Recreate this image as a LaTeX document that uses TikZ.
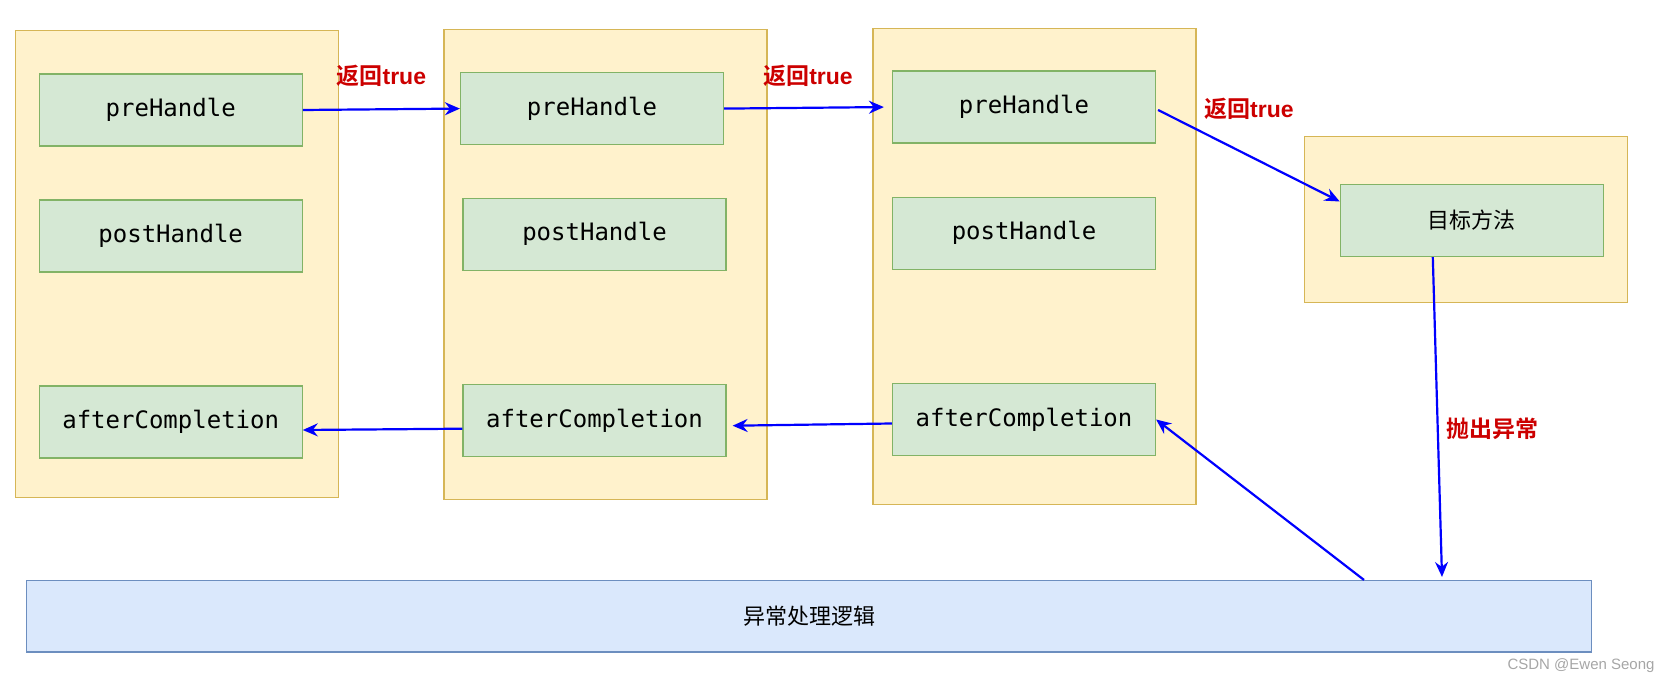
\documentclass[tikz,border=0pt]{standalone}
\usepackage{fontspec}
\setmonofont{DejaVu Sans Mono}
\setsansfont{Liberation Sans}
\newfontfamily\cjk{Noto Sans CJK SC}
\newfontfamily\cjkbold{Noto Sans CJK SC Bold}
\usetikzlibrary{arrows.meta}
\definecolor{lanefill}{HTML}{FFF2CC}
\definecolor{laneline}{HTML}{D6B656}
\definecolor{hookfill}{HTML}{D5E8D4}
\definecolor{hookline}{HTML}{82B366}
\definecolor{errfill}{HTML}{DAE8FC}
\definecolor{errline}{HTML}{6C8EBF}
\definecolor{callblue}{HTML}{0000FF}
\definecolor{notered}{HTML}{CC0000}
\begin{document}
\begin{tikzpicture}[x=1pt,y=-1pt]
    \tikzset{lane/.style={rectangle,draw=laneline,fill=lanefill,line width=1.2pt,minimum width=323pt,inner sep=0pt}}
    \tikzset{hook/.style={rectangle,draw=hookline,fill=hookfill,line width=1.2pt,minimum width=263pt,minimum height=72pt,inner sep=0pt,font=\fontsize{24}{28}\selectfont\ttfamily}}
    \tikzset{call/.style={draw=callblue,line width=2.2pt,-{Stealth[length=15pt,width=13pt,inset=5pt]}}}
    \tikzset{note/.style={text=notered,inner sep=0pt,font=\fontsize{23}{27}\selectfont}}
    \useasboundingbox (0,0) rectangle (1670,684);
    % interceptor chain
    \node[lane,minimum height=467pt] (L1) at (176.7,264.2) {};
    \node[lane,minimum height=470pt] (L2) at (605.5,264.7) {};
    \node[lane,minimum height=476pt] (L3) at (1034.5,266.8) {};
    \node[lane,minimum height=166pt] (L4) at (1465.8,219.9) {};
    \node[hook] (pre1) at (170.7,110) {preHandle};
    \node[hook] (post1) at (170.7,236) {postHandle};
    \node[hook] (after1) at (170.7,422) {afterCompletion};
    \node[hook] (pre2) at (592,108.6) {preHandle};
    \node[hook] (post2) at (594.5,234.3) {postHandle};
    \node[hook] (after2) at (594.5,420.7) {afterCompletion};
    \node[hook] (pre3) at (1024,107) {preHandle};
    \node[hook] (post3) at (1024,233.3) {postHandle};
    \node[hook] (after3) at (1024,419.5) {afterCompletion};
    \node[hook,font=\fontsize{22}{26}\selectfont\cjk] (target) at (1471.8,220.5) {目标方法};
    \node[rectangle,draw=errline,fill=errfill,line width=1.2pt,minimum width=1565pt,minimum height=71.5pt,inner sep=0pt,font=\fontsize{22}{26}\selectfont\cjk] (handler) at (809,616.3) {异常处理逻辑};
    % calls
    \draw[call] (pre1.east) -- (pre2.west) node[note,midway,yshift=33pt] {{\cjkbold 返回}{\sffamily\bfseries true}};
    \draw[call,shorten >=8pt] (pre2.east) -- (pre3.west) node[note,midway,yshift=32pt] {{\cjkbold 返回}{\sffamily\bfseries true}};
    \draw[call] ([xshift=2pt,yshift=-3pt]pre3.east) -- ([yshift=19pt]target.west) node[note,midway,yshift=47pt] {{\cjkbold 返回}{\sffamily\bfseries true}};
    \draw[call] ([xshift=-39pt]target.south) -- ([xshift=633pt,yshift=3pt]handler.north) node[note,midway,xshift=55pt,yshift=-12pt] {\cjkbold 抛出异常};
    \draw[call] ([xshift=555pt]handler.north) -- (after3.east);
    \draw[call] ([yshift=-4pt]after3.west) -- ([xshift=6pt,yshift=-5pt]after2.east);
    \draw[call] ([yshift=-8pt]after2.west) -- ([yshift=-8pt]after1.east);
    \node[text=black!35,inner sep=0pt,font=\fontsize{15}{18}\selectfont\sffamily] (mark) at (1581,665.7) {CSDN @Ewen Seong};
\end{tikzpicture}
\end{document}
